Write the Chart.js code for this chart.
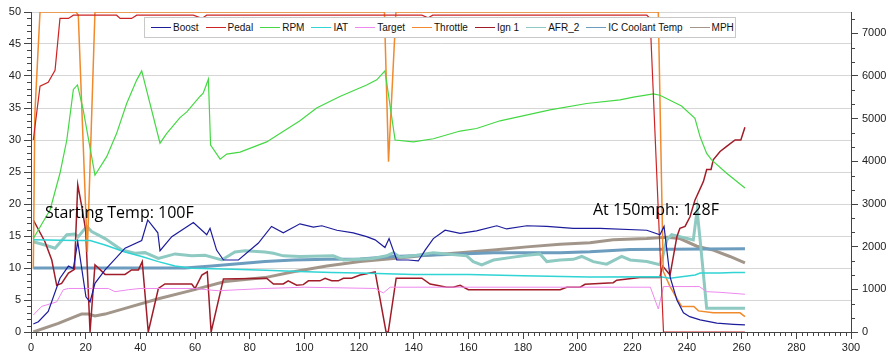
<!DOCTYPE html>
<html lang="en">
<head>
<meta charset="UTF-8">
<title>Run log</title>
<script src="https://cdn.jsdelivr.net/npm/chart.js"></script>
<style>
    body { margin: 0; background: #fff; }
    #wrap { position: relative; width: 894px; height: 362px; }
    #legend {
        position: absolute; left: 144px; top: 17px; width: 592px; height: 21px;
        border: 1px solid #c8c8c8; background: #fff;
        display: flex; align-items: center; box-sizing: border-box; padding-left: 6px;
        font-family: "Liberation Sans", Arial, sans-serif; font-size: 10px; color: #111;
    }
    .item { display: flex; align-items: center; margin-right: 7px; white-space: nowrap; }
    .swatch { width: 20px; height: 0; border-top: 1px solid; margin-right: 2px; }
    .note {
        position: absolute; font-family: "Open Sans", sans-serif; font-size: 16px;
        line-height: 16px; color: #000; white-space: nowrap;
    }
</style>
</head>
<body>
<div id="wrap">
    <canvas id="log" width="894" height="362"></canvas>
    <div id="legend"></div>
    <div class="note" style="left:45px; top:204px;">Starting Temp: 100F</div>
    <div class="note" style="left:593px; top:201px;">At 150mph: 128F</div>
</div>
<script>
const boost = [[0.85,1.25],[2.7,1.6],[6.3,3.2],[10.6,8.4],[13.7,10.3],[15.5,9.9],[17.1,14.1],[20.1,5.5],[21.6,4.7],[23.4,7.6],[27.1,9.7],[34.4,13.1],[40.5,14.3],[42.7,17.5],[46.4,15.5],[47.2,12.7],[51.5,14.9],[59.4,17.1],[64.3,15.2],[65.5,16.2],[67.9,12.8],[70.4,11.25],[75.9,11.25],[83.2,13.9],[88,16.5],[92.3,15.5],[98.4,16.9],[103.3,16.4],[106.4,16.6],[111.9,15.9],[117.9,15.5],[122.8,14.9],[125.9,14.4],[129.5,13.2],[131,14.6],[133.8,11.25],[138,11.25],[141.7,11.1],[144.2,12.8],[147.2,14.6],[151.5,15.9],[157,15.4],[163,15.8],[170.4,16.6],[174,16.1],[181.4,16.6],[188.7,16.5],[198.4,16.2],[208.2,16.2],[225.3,15.9],[230.1,15.2],[231.6,16.5],[233.8,8.6],[236.3,5.0],[238.7,3.0],[241,2.4],[244.8,1.9],[250.9,1.4],[257,1.2],[261.2,1.1]];
const pedal = [[0.85,30],[3.3,38.4],[6.3,39],[8.8,40.9],[10.6,49],[13.7,49],[15.5,49.5],[31.3,49.5],[32.6,49],[36.8,49],[38.7,49.5],[59.4,49.5],[62.5,49],[64.3,49.5],[143,49.5],[145.3,49.1],[147,49.5],[225.3,49.5],[226.5,49],[231.4,0],[261.2,0]];
const rpm = [[0.85,2190],[7,2865],[10.6,3720],[13.1,4500],[15.5,5685],[17,5790],[19.1,5205],[23.4,3675],[27.7,4110],[31.3,4650],[35,5355],[38.7,5910],[40.5,6120],[47.2,4425],[49.6,4650],[54.5,5025],[57,5160],[61.8,5520],[63,5595],[64.9,5925],[65.7,4380],[69.2,4050],[71.6,4170],[76.5,4215],[86.2,4455],[98.4,4950],[104.5,5250],[113,5520],[122.8,5790],[126.5,5910],[129.5,6120],[133.2,4500],[139.9,4455],[147.2,4530],[157,4710],[163,4770],[171.6,4950],[189.9,5205],[203.3,5355],[215.5,5440],[220.4,5505],[227.7,5580],[230.1,5550],[238,5295],[242.9,5010],[244.8,4575],[247.2,4185],[249,4035],[254.5,3720],[261.2,3375]];
const iat = [[0.85,14.4],[16.1,14.3],[21.6,14.3],[27.1,13.6],[34.4,12.5],[40.5,11.8],[46.6,11],[52.7,10.3],[58.8,9.95],[74,9.8],[86,9.65],[98,9.45],[110,9.3],[120,9.2],[140,9.0],[160,9.0],[180,8.8],[204,8.6],[230.1,8.65],[233.8,8.4],[243,8.9],[244.8,9.2],[252.1,9.2],[257,9.3],[261.2,9.3]];
const target = [[0.85,2.65],[3.9,4],[9.4,4.7],[11.8,6.6],[13.7,6.8],[28.3,6.8],[30.7,6.3],[35.6,6.6],[39.9,6.8],[59.4,6.8],[68.5,6.45],[85.6,6.8],[100,7.0],[126,6.8],[128.9,6.1],[131.4,7.0],[226.6,7.0],[229.5,3.6],[231.4,7.1],[244.5,7.1],[247.2,6.3],[252.1,6.2],[261.2,5.9]];
const throttle = [[0.85,10],[1.4,34],[3.3,50],[16.5,50],[17.3,49.5],[20.6,12.5],[23.4,50],[129.3,50],[130.8,26.6],[133.5,50],[229.5,50],[231.3,9.5],[233.8,7.1],[238,4.0],[242.5,4.0],[244.2,3.3],[249.6,3.0],[259.4,3.0],[261.2,2.4]];
const ign1 = [[0.85,17.5],[5.1,14.1],[7.6,11.25],[9.4,7.3],[11.2,7.6],[13.7,9.2],[15.9,9.8],[17.1,23],[18.5,19.8],[20,15.9],[21.6,0],[23.4,10.5],[24.9,9.9],[27.1,9.0],[34.4,9.0],[36.8,9.7],[39.3,9.7],[40.7,11],[42.9,0],[46.6,6.8],[49,7.5],[58.8,7.5],[60,6.8],[62.5,8.9],[64.5,9.4],[65.9,0],[70.4,8.3],[86.2,8.4],[88.7,7.5],[92.3,7.5],[94.1,8.0],[97.2,7.3],[99.6,7.4],[101.5,8.0],[105.7,8.0],[107.6,8.4],[110,8.0],[112.4,8.0],[114.3,8.4],[117.3,8.4],[120.4,8.9],[122.8,9.1],[125.9,9.4],[129.9,0],[130.7,0],[133.6,8.4],[143,8.4],[146,7.5],[148.4,7.3],[152.1,7.0],[154.5,7.0],[157,7.3],[160,6.6],[193.6,6.6],[196,7.0],[200.9,7.0],[202.7,7.45],[213,7.7],[214.3,8.1],[222.8,8.5],[230,8.5],[231.1,10.3],[233.8,8.9],[236.3,14.9],[237.4,16.2],[239.3,16.5],[241.1,18],[242.9,20.6],[246,23.5],[247.2,25.4],[248.8,25.4],[249.6,26.9],[252.1,28.2],[254.5,29],[257.6,30],[259.7,30],[261.2,32]];
const afr2 = [[0.85,14.1],[5.1,13.6],[8.8,13.1],[13.1,15.2],[16.1,15.3],[17.3,14.9],[20.4,16.5],[22.2,15.7],[27.1,14.6],[33.2,12.8],[38,12.3],[41.7,12.4],[46.6,11.5],[52.7,12.2],[58.8,11.9],[63.7,12.0],[66.1,11.7],[69.8,11.25],[74.6,12.5],[78.3,12.7],[85.6,12.5],[88.7,12.3],[92.3,11.9],[98.4,11.8],[110.6,11.9],[114.3,11.25],[125,11.5],[130.1,11.9],[132.6,12.4],[135,11.7],[141.1,12.0],[147.2,12.4],[152.1,12.2],[159.4,11.9],[161.8,11.0],[164.9,10.5],[169.2,11.25],[176.5,11.7],[181.4,12.0],[186.2,12.2],[188.7,11.0],[193.6,11.25],[198.4,11.35],[201.5,11.8],[205.7,11.0],[210.6,10.6],[216.1,11.8],[219.2,11.25],[225.3,11.0],[230.1,10.5],[231.1,11.8],[232.6,14.4],[234.4,15.2],[237.4,14.9],[242.3,14.4],[243.7,19],[244.8,14.4],[247.2,3.7],[261.2,3.7]];
const icTemp = [[0.85,10],[56.3,10],[66.1,10.3],[85.6,11.0],[96,11.25],[108.2,11.35],[120.4,11.4],[132.6,11.8],[144.8,12.0],[157,12.2],[169.2,12.4],[193.6,12.4],[204.5,12.55],[219.2,12.9],[261.2,13.0]];
const mph = [[0.85,0],[10,1.35],[16.1,2.4],[18.5,2.8],[21,2.8],[23.4,2.5],[27.1,2.8],[34.4,3.7],[46.6,5.2],[58.8,6.5],[71,7.9],[85.6,8.5],[96,9.4],[108.2,10.3],[120.4,11.0],[132.6,11.5],[144.8,12.0],[157,12.4],[169.2,12.8],[181.4,13.3],[193.6,13.7],[204.5,13.95],[213,14.4],[225.3,14.6],[232.6,14.8],[237.4,14.6],[243.6,13.4],[249.6,12.8],[255.7,11.8],[261.2,10.8]];
const rpmTicks = [0, 1000, 2000, 3000, 4000, 5000, 6000, 7000];

const series = [
    { label: 'Boost', data: boost, color: '#1c1c9c', width: 1.2 },
    { label: 'Pedal', data: pedal, color: '#cc2424', width: 1.2 },
    { label: 'RPM', data: rpm, color: '#44d844', width: 1.2, axis: 'y1' },
    { label: 'IAT', data: iat, color: '#30d4d4', width: 1.5 },
    { label: 'Target', data: target, color: '#ee88ee', width: 1 },
    { label: 'Throttle', data: throttle, color: '#f08a2c', width: 1.5 },
    { label: 'Ign 1', data: ign1, color: '#a01c28', width: 1.5 },
    { label: 'AFR_2', data: afr2, color: '#8ecac2', width: 3 },
    { label: 'IC Coolant Temp', data: icTemp, color: '#6c9cbe', width: 3 },
    { label: 'MPH', data: mph, color: '#a2968a', width: 3 }
];

// legend sits inside the plot, like the logger's
const legendEl = document.getElementById('legend');
series.forEach(s => {
    const item = document.createElement('div');
    item.className = 'item';
    item.innerHTML = '<span class="swatch" style="border-color:' + s.color + '"></span>' + s.label;
    legendEl.appendChild(item);
});

// short ticks between the labelled ones
const minorTicks = {
    id: 'minorTicks',
    afterDraw(chart) {
        const c = chart.ctx, s = chart.scales;
        c.save();
        c.strokeStyle = '#444';
        c.lineWidth = 1;
        c.beginPath();
        for (let v = 0; v <= 50; v++) {
            if (v % 5 === 0) continue;
            const y = Math.round(s.y.getPixelForValue(v)) + 0.5;
            c.moveTo(s.y.right - 4, y); c.lineTo(s.y.right, y);
        }
        for (let k = 1; k * 1000 / 3 <= 7500; k++) {
            if (k % 3 === 0) continue;
            const y = Math.round(s.y1.getPixelForValue(k * 1000 / 3)) + 0.5;
            c.moveTo(s.y1.left, y); c.lineTo(s.y1.left + 4, y);
        }
        for (let v = 0; v <= 300; v += 2) {
            if (v % 20 === 0) continue;
            const x = Math.round(s.x.getPixelForValue(v)) + 0.5;
            c.moveTo(x, s.x.top); c.lineTo(x, s.x.top + 4);
        }
        c.stroke();
        c.restore();
    }
};

const tickFont = { family: 'Liberation Sans, Arial, sans-serif', size: 11 };

new Chart(document.getElementById('log'), {
    type: 'line',
    data: {
        datasets: series.map(s => ({
            label: s.label,
            data: s.data.map(p => ({ x: p[0], y: p[1] })),
            borderColor: s.color,
            borderWidth: s.width,
            pointRadius: 0,
            tension: 0,
            fill: false,
            yAxisID: s.axis || 'y'
        }))
    },
    options: {
        responsive: false,
        animation: false,
        devicePixelRatio: 1,
        layout: { padding: { top: 12 } },
        plugins: { legend: { display: false }, tooltip: { enabled: false } },
        scales: {
            x: {
                type: 'linear', min: 0, max: 300,
                ticks: { stepSize: 20, color: '#222', font: tickFont, padding: 2, maxRotation: 0 },
                grid: { drawOnChartArea: false, tickLength: 7, color: '#444' },
                border: { color: '#444' },
                afterFit: sc => { sc.height = 30; }
            },
            y: {
                min: 0, max: 50,
                ticks: { stepSize: 5, color: '#222', font: tickFont, padding: 3 },
                grid: { color: '#d6d6d6', tickLength: 7, tickColor: '#444' },
                border: { color: '#444' },
                afterFit: sc => { sc.width = 31; }
            },
            y1: {
                position: 'right', min: 0, max: 7500,
                ticks: { color: '#222', font: tickFont, padding: 4, callback: v => String(v) },
                afterBuildTicks: sc => { sc.ticks = rpmTicks.map(v => ({ value: v })); },
                grid: { drawOnChartArea: false, tickLength: 7, color: '#444' },
                border: { color: '#444' },
                afterFit: sc => { sc.width = 43; }
            }
        }
    },
    plugins: [minorTicks]
});
</script>
</body>
</html>
